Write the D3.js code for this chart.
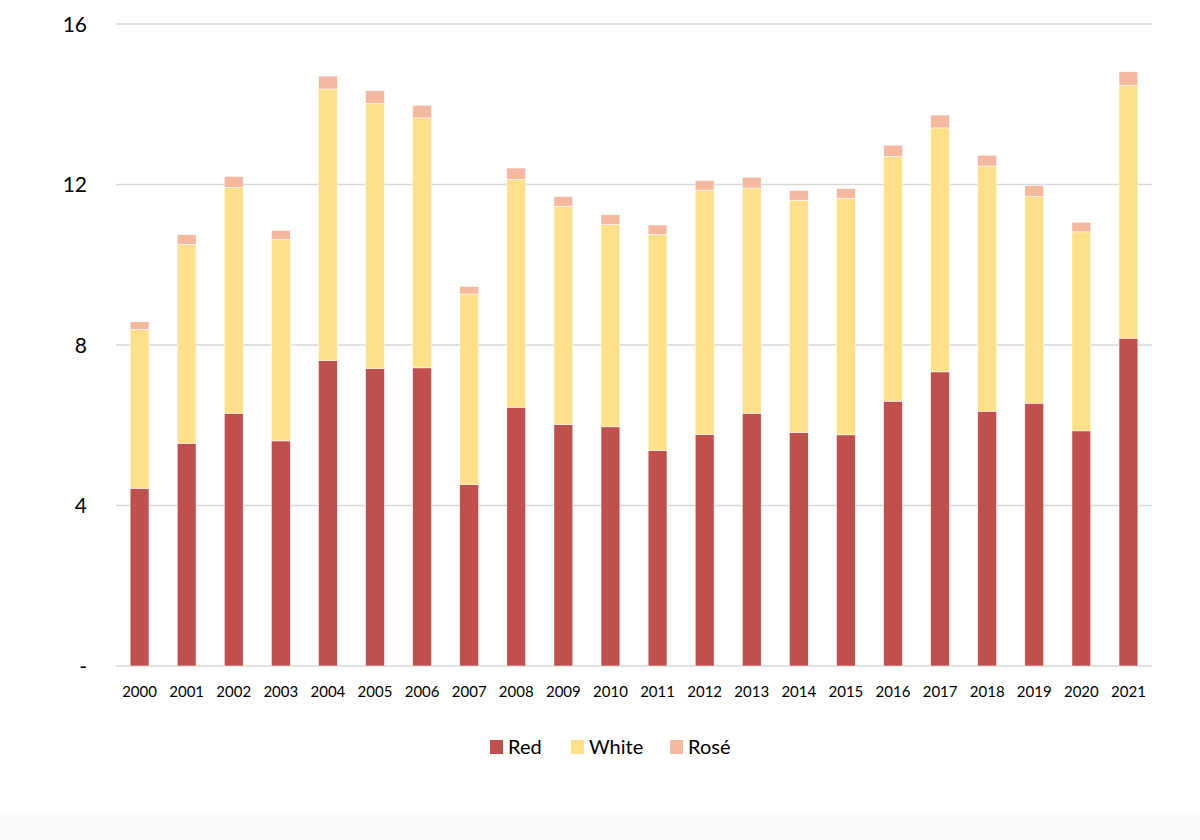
<!DOCTYPE html>
<html>
  <head>
    <meta charset="utf-8">
    <title>Wine production by type</title>
    <script src="https://d3js.org/d3.v7.min.js"></script>
    <style>
      body { margin: 0; background: #fff; }
      svg text { font-family: Lato, "Open Sans", sans-serif; fill: #000; }
      .grid line { stroke: #d9d9d9; stroke-width: 1.5; }
    </style>
  </head>
  <body>
    <svg id="svg" width="1200" height="840"></svg>
    <script>
      // data
      var years = ["2000", "2001", "2002", "2003", "2004", "2005", "2006", "2007", "2008", "2009", "2010",
                   "2011", "2012", "2013", "2014", "2015", "2016", "2017", "2018", "2019", "2020", "2021"];
      var red   = [4.43, 5.55, 6.30, 5.61, 7.61, 7.41, 7.43, 4.52, 6.45, 6.02, 5.96,
                   5.37, 5.77, 6.30, 5.82, 5.76, 6.60, 7.33, 6.35, 6.55, 5.86, 8.17];
      var white = [3.96, 4.96, 5.63, 5.02, 6.77, 6.61, 6.23, 4.75, 5.68, 5.44, 5.05,
                   5.39, 6.09, 5.61, 5.79, 5.90, 6.10, 6.08, 6.11, 5.15, 4.96, 6.30];
      var rose  = [0.19, 0.24, 0.27, 0.23, 0.32, 0.32, 0.31, 0.19, 0.28, 0.24, 0.24,
                   0.23, 0.24, 0.27, 0.24, 0.24, 0.28, 0.32, 0.27, 0.27, 0.24, 0.34];
      var seriesNames = ["Red", "White", "Rosé"];
      var yTicks = [0, 4, 8, 12, 16];

      var colours = d3.scaleOrdinal()
        .domain(seriesNames)
        .range(["#c0504d", "#ffe08a", "#f5b8a0"]);

      var svg = d3.select("#svg");

      // faint band at the bottom of the picture
      svg.append("rect")
        .attr("x", 0).attr("y", 815).attr("width", 1200).attr("height", 25)
        .attr("fill", "#fafafa");

      var margin = { left: 116, right: 48, top: 24, bottom: 174 };
      var width = 1200 - margin.left - margin.right;
      var height = 840 - margin.top - margin.bottom;

      var g = svg.append("g")
        .attr("transform", "translate(" + margin.left + "," + margin.top + ")");

      var x = d3.scaleBand()
        .domain(years)
        .range([0, width])
        .paddingInner(0.6)
        .paddingOuter(0.3);

      var y = d3.scaleLinear()
        .domain([0, 16])
        .range([height, 0]);

      // gridlines
      g.append("g")
        .attr("class", "grid")
        .selectAll("line")
          .data(yTicks)
        .enter().append("line")
          .attr("x1", 0)
          .attr("x2", width)
          .attr("y1", function(d) { return y(d); })
          .attr("y2", function(d) { return y(d); });

      // y axis labels
      var yAxis = d3.axisLeft(y)
        .tickValues(yTicks)
        .tickSize(0)
        .tickPadding(29)
        .tickFormat(function(d) { return d === 0 ? "-" : d; });
      g.append("g")
        .call(yAxis)
        .call(function(a) { a.select(".domain").remove(); })
        .selectAll("text")
          .style("font-size", "21px")
          .attr("dy", "0.35em");

      // stacked bars
      var table = years.map(function(yr, i) {
        return { year: yr, "Red": red[i], "White": white[i], "Rosé": rose[i] };
      });
      var stacked = d3.stack().keys(seriesNames)(table);

      g.append("g")
        .selectAll("g")
          .data(stacked)
        .enter().append("g")
          .attr("fill", function(d) { return colours(d.key); })
        .selectAll("rect")
          .data(function(d) { return d; })
        .enter().append("rect")
          .attr("x", function(d) { return x(d.data.year); })
          .attr("width", x.bandwidth())
          .attr("y", function(d) { return y(d[1]); })
          .attr("height", function(d) { return y(d[0]) - y(d[1]); })
          .attr("stroke", "#fff")
          .attr("stroke-width", 0.5);

      // x axis labels
      var xAxis = d3.axisBottom(x)
        .tickSize(0)
        .tickPadding(20);
      g.append("g")
        .attr("transform", "translate(0," + height + ")")
        .call(xAxis)
        .call(function(a) { a.select(".domain").remove(); })
        .selectAll("text")
          .style("font-size", "15px");

      // legend
      var legendItems = [
        { name: "Red", x: 490 },
        { name: "White", x: 571 },
        { name: "Rosé", x: 670 }
      ];
      var legend = svg.append("g").attr("transform", "translate(0, 740)");
      var item = legend.selectAll("g")
          .data(legendItems)
        .enter().append("g")
          .attr("transform", function(d) { return "translate(" + d.x + ",0)"; });
      item.append("rect")
        .attr("width", 13)
        .attr("height", 14)
        .attr("fill", function(d) { return colours(d.name); });
      item.append("text")
        .attr("x", 18)
        .attr("y", 7)
        .attr("dy", "0.35em")
        .style("font-size", "20px")
        .text(function(d) { return d.name; });
    </script>
  </body>
</html>
